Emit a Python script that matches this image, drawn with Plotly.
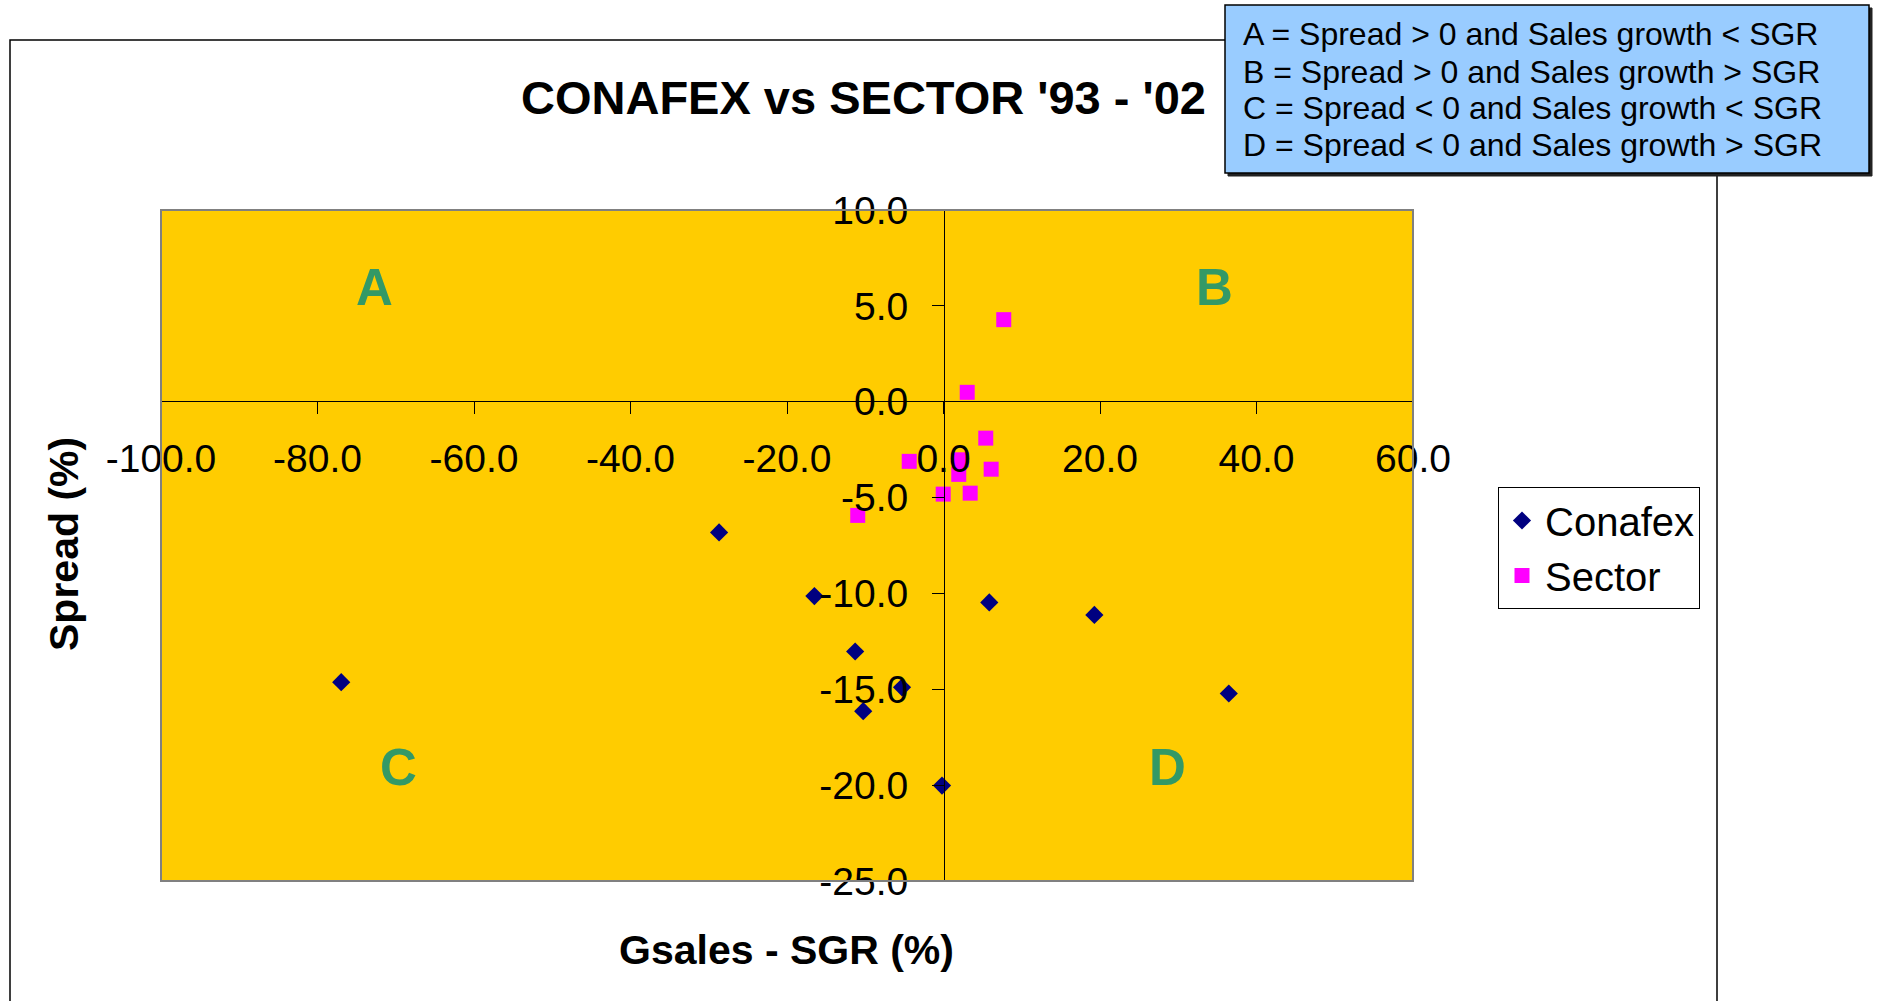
import plotly.graph_objects as go

# ---------------- data ----------------
conafex_x = [-76.97, -28.68, -16.50, -11.29, -5.30, -10.26, -0.19, 5.85, 19.28, 36.46]
conafex_y = [-14.63, -6.82, -10.14, -13.03, -14.90, -16.14, -20.02, -10.47, -11.12, -15.22]

sector_x = [7.70, 3.03, 5.40, -4.38, 2.26, 1.95, 6.09, -0.04, 3.41, -10.96]
sector_y = [4.28, 0.49, -1.90, -3.11, -3.03, -3.79, -3.52, -4.82, -4.77, -5.93]

x_ticks = [-100, -80, -60, -40, -20, 0, 20, 40, 60]
x_tick_labels = ["-100.0", "-80.0", "-60.0", "-40.0", "-20.0", "0.0", "20.0", "40.0", "60.0"]
y_ticks = [-25, -20, -15, -10, -5, 0, 5, 10]
y_tick_labels = ["-25.0", "-20.0", "-15.0", "-10.0", "-5.0", "0.0", "5.0", "10.0"]

quadrant_labels = ["A", "B", "C", "D"]
quadrant_x = [-72.7, 34.6, -69.7, 28.6]
quadrant_y = [5.96, 5.96, -19.06, -19.06]

note_lines = [
    "A = Spread > 0 and Sales growth < SGR",
    "B = Spread > 0 and Sales growth > SGR",
    "C = Spread < 0 and Sales growth < SGR",
    "D = Spread < 0 and Sales growth > SGR",
]

title_text = "CONAFEX vs SECTOR '93 - '02"
x_title = "Gsales - SGR (%)"
y_title = "Spread (%)"

# ---------------- layout helpers ----------------
W, H = 1879, 1001
PL, PR, PT, PB = 161, 1413, 210, 881  # plot area in pixels
FONT = "Liberation Sans, Arial, sans-serif"


def px_x(p):
    return (p - PL) / (PR - PL)


def px_y(p):
    return (PB - p) / (PB - PT)


fig = go.Figure()

fig.add_trace(go.Scatter(
    x=conafex_x, y=conafex_y, mode="markers", name="Conafex",
    marker=dict(symbol="diamond", size=14, color="#000080"),
))
fig.add_trace(go.Scatter(
    x=sector_x, y=sector_y, mode="markers", name="Sector",
    marker=dict(symbol="square", size=15, color="#FF00FF"),
))

shapes = [
    # chart area border
    dict(type="rect", xref="paper", yref="paper",
         x0=px_x(10), x1=px_x(1717), y0=px_y(1030), y1=px_y(40),
         line=dict(color="#000000", width=1.5), fillcolor="rgba(0,0,0,0)", layer="above"),
    # plot area border
    dict(type="rect", xref="paper", yref="paper", x0=0, x1=1, y0=0, y1=1,
         line=dict(color="#808080", width=2), fillcolor="rgba(0,0,0,0)", layer="above"),
    # note box shadow
    dict(type="rect", xref="paper", yref="paper",
         x0=px_x(1228), x1=px_x(1872), y0=px_y(176), y1=px_y(8),
         line=dict(color="#222222", width=1), fillcolor="#222222", layer="above"),
    # note box
    dict(type="rect", xref="paper", yref="paper",
         x0=px_x(1225), x1=px_x(1869), y0=px_y(173), y1=px_y(5),
         line=dict(color="#000000", width=1.5), fillcolor="#99CCFF", layer="above"),
]

annotations = []
for lab, qx, qy in zip(quadrant_labels, quadrant_x, quadrant_y):
    annotations.append(dict(
        x=qx, y=qy, xref="x", yref="y", text=lab, showarrow=False,
        xanchor="center", yanchor="middle",
        font=dict(family=FONT, size=51, color="#339966", weight="bold"),
    ))

note_y_px = [34, 72, 108, 145]
for line, ly in zip(note_lines, note_y_px):
    annotations.append(dict(
        x=px_x(1241), y=px_y(ly), xref="paper", yref="paper", text=line,
        showarrow=False, xanchor="left", yanchor="middle",
        font=dict(family=FONT, size=32, color="#000000"),
    ))

annotations.append(dict(
    x=px_x(863), y=px_y(97.5), xref="paper", yref="paper", text="<b>" + title_text + "</b>",
    showarrow=False, xanchor="center", yanchor="middle",
    font=dict(family=FONT, size=47, color="#000000"),
))
annotations.append(dict(
    x=px_x(786), y=px_y(950), xref="paper", yref="paper", text="<b>" + x_title + "</b>",
    showarrow=False, xanchor="center", yanchor="middle",
    font=dict(family=FONT, size=41, color="#000000"),
))
annotations.append(dict(
    x=px_x(64), y=px_y(544), xref="paper", yref="paper", text="<b>" + y_title + "</b>",
    showarrow=False, xanchor="center", yanchor="middle", textangle=-90,
    font=dict(family=FONT, size=41, color="#000000"),
))

fig.update_layout(
    width=W, height=H,
    margin=dict(l=PL, r=W - PR, t=PT, b=H - PB, autoexpand=False),
    paper_bgcolor="#FFFFFF",
    plot_bgcolor="#FFCC00",
    font=dict(family=FONT, color="#000000"),
    showlegend=True,
    legend=dict(
        x=px_x(1498), y=px_y(487), xanchor="left", yanchor="top",
        xref="paper", yref="paper",
        bgcolor="#FFFFFF", bordercolor="#000000", borderwidth=1,
        itemwidth=36,
        font=dict(family=FONT, size=40, color="#000000"),
    ),
    xaxis=dict(
        range=[-100, 60], tickvals=x_ticks, ticktext=x_tick_labels,
        anchor="free", position=px_y(401.3), side="bottom",
        showline=True, linecolor="#000000", linewidth=1,
        ticks="outside", ticklen=12, tickwidth=1, tickcolor="#000000",
        showgrid=False, zeroline=False,
        tickfont=dict(family=FONT, size=39, color="#000000"),
        ticklabelstandoff=11,
    ),
    yaxis=dict(
        range=[-25, 10], tickvals=y_ticks, ticktext=y_tick_labels,
        anchor="free", position=px_x(944), side="left",
        showline=True, linecolor="#000000", linewidth=1,
        ticks="outside", ticklen=12, tickwidth=1, tickcolor="#000000",
        showgrid=False, zeroline=False,
        tickfont=dict(family=FONT, size=39, color="#000000"),
        ticklabelstandoff=16,
    ),
    shapes=shapes,
    annotations=annotations,
)

fig.write_html("out.html")
